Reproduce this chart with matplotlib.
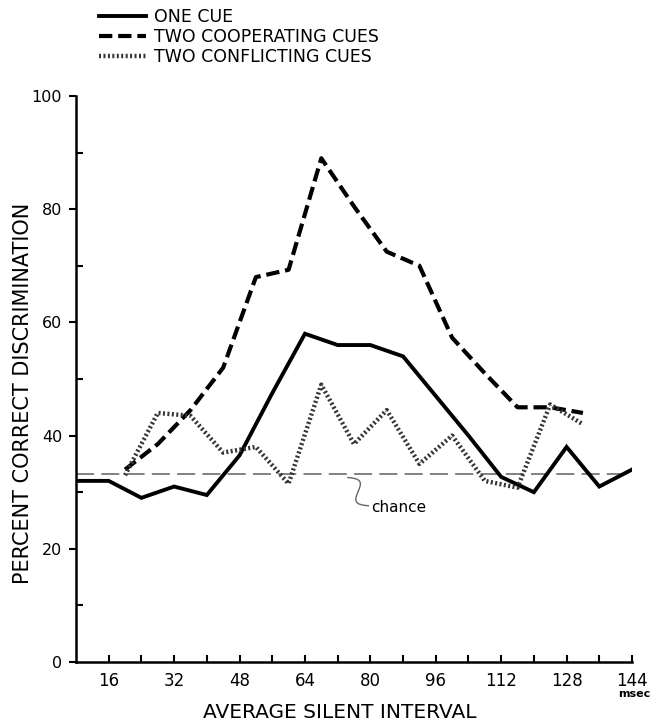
import numpy as np
import matplotlib
matplotlib.use("Agg")
import matplotlib.pyplot as plt
from matplotlib.lines import Line2D
from matplotlib.ticker import MultipleLocator, FixedLocator

# ---- data ----
x_one = [8, 16, 24, 32, 40, 48, 56, 64, 72, 80, 88, 96, 104, 112, 120, 128, 136, 144]
one_cue = [32, 32, 29, 31, 29.5, 36.5, 47.5, 58, 56, 56, 54, 47, 40, 32.7, 30, 38, 31, 34]

x_two = [20, 28, 36, 44, 52, 60, 68, 76, 84, 92, 100, 108, 116, 124, 132]
cooperating = [34, 38.5, 44.5, 52, 68, 69.3, 89, 80.5, 72.5, 70, 57.3, 51, 45, 45, 44]
conflicting = [33, 44, 43.5, 37, 38, 31.5, 49, 38.5, 44.5, 35, 40, 32, 30.8, 45.5, 42]

chance = 33.3
x_labels = [16, 32, 48, 64, 80, 96, 112, 128, 144]
y_labels = [0, 20, 40, 60, 80, 100]
legend_labels = ["ONE CUE", "TWO COOPERATING CUES", "TWO CONFLICTING CUES"]

FONT = "DejaVu Sans"
plt.rcParams['font.family'] = [FONT]

W, H = 662, 722
fig = plt.figure(figsize=(W / 100, H / 100), dpi=100)
ax = fig.add_axes([76 / W, 1 - 662 / H, (632 - 76) / W, (662 - 96) / H])

ax.set_xlim(8, 144)
ax.set_ylim(0, 100)

# chance line
ax.axhline(chance, color="#777777", lw=1.3, dashes=(10, 4), zorder=1)

ax.plot(x_one, one_cue, color="black", lw=2.8, solid_joinstyle="miter", zorder=3)
ax.plot(x_two, cooperating, color="black", lw=3.0, dashes=(3.2, 1.4), zorder=3)
ax.plot(x_two, conflicting, color="#333333", lw=3.2, dashes=(0.45, 0.55), zorder=3)

# squiggle pointing to chance line
t = np.linspace(0, 1, 60)
sx = 74.5 + 5.0 * t + 1.6 * np.sin(2 * np.pi * 1.0 * t)
sy = 32.6 - 5.0 * t + 0.6 * np.sin(2 * np.pi * 1.0 * t)
ax.plot(sx, sy, color="#666666", lw=1.0, zorder=2)
ax.text(80.3, 27.3, "chance", fontsize=11, ha="left", va="center", family=FONT)

# spines
for s in ["top", "right"]:
    ax.spines[s].set_visible(False)
for s in ["left", "bottom"]:
    ax.spines[s].set_linewidth(1.8)

ax.xaxis.set_major_locator(FixedLocator(x_labels))
ax.xaxis.set_minor_locator(FixedLocator([v + 8 for v in x_labels[:-1]]))
ax.set_xticklabels([str(v) for v in x_labels])
ax.tick_params(axis="x", which="both", direction="in", length=5, width=1.5, pad=7, labelsize=12)

ax.yaxis.set_major_locator(FixedLocator(y_labels))
ax.yaxis.set_minor_locator(MultipleLocator(10))
ax.tick_params(axis="y", which="major", direction="out", length=5, width=1.5, pad=5, labelsize=11.5)
ax.tick_params(axis="y", which="minor", direction="in", length=5, width=1.5)

ax.set_xlabel("AVERAGE SILENT INTERVAL", fontsize=14.5)
ax.xaxis.set_label_coords((340 - 76) / 556, (662 - 703) / 566)
ax.set_ylabel("PERCENT CORRECT DISCRIMINATION", fontsize=15)
ax.yaxis.set_label_coords((33 - 76) / 556, (662 - 393) / 566)
ax.text(144.5, -5.6, "msec", fontsize=8, fontweight="bold", ha="center", va="center")

handles = [
    Line2D([], [], color="black", lw=2.8),
    Line2D([], [], color="black", lw=3.0, dashes=(3.2, 1.4)),
    Line2D([], [], color="#333333", lw=3.2, dashes=(0.45, 0.55)),
]
fig.legend(handles, legend_labels, loc="upper left", bbox_to_anchor=(99 / W, 1 - 8 / H),
           frameon=False, fontsize=12.5, handlelength=2.7, handletextpad=0.45,
           labelspacing=0.12, borderaxespad=0, borderpad=0)

fig.savefig("out.png", dpi=100)
